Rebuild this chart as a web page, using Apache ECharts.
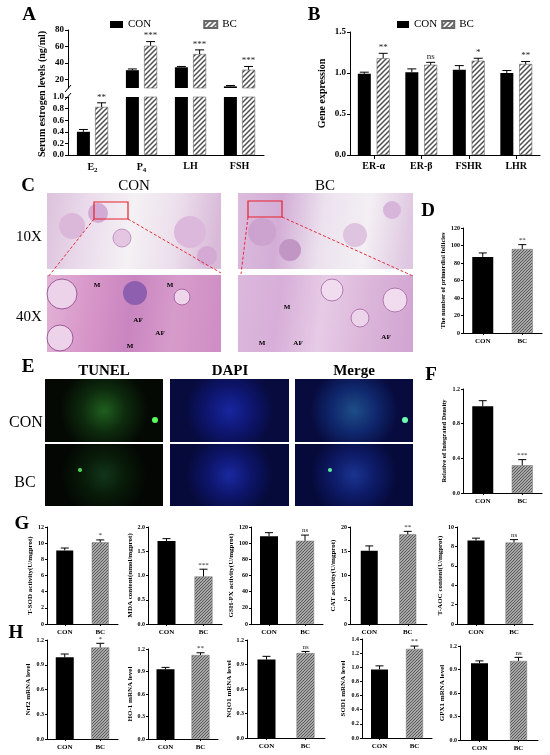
<!DOCTYPE html>
<html>
<head>
<meta charset="utf-8">
<script src="https://cdn.jsdelivr.net/npm/echarts@6/dist/echarts.min.js"></script>
<style>
html, body { margin: 0; padding: 0; background: #fff; }
#main { width: 550px; height: 755px; }
</style>
</head>
<body>
<div id="main"></div>
<script>
// ---- data ----
var hormoneCats = ['E2', 'P4', 'LH', 'FSH'];
var hormoneCon = [0.40, 31.5, 35, 12];
var hormoneConErr = [0.04, 1.5, 1, 1];
var hormoneBc = [0.83, 61, 51, 32];
var hormoneBcErr = [0.07, 5, 5, 4];
var hormoneSig = ['**', '***', '***', '***'];
var hormoneUpperTicks = [20, 40, 60, 80];

var geneCats = ['ER-α', 'ER-β', 'FSHR', 'LHR'];
var geneCon = [0.99, 1.01, 1.04, 1.00];
var geneConErr = [0.02, 0.04, 0.05, 0.03];
var geneBc = [1.18, 1.10, 1.15, 1.11];
var geneBcErr = [0.06, 0.03, 0.03, 0.03];
var geneSig = ['**', 'ns', '*', '**'];

var groups = ['CON', 'BC'];

var follicles = [87, 96];
var folliclesErr = [4.5, 5];
var folliclesSig = ['', '**'];

var tunelDensity = [1.0, 0.32];
var tunelDensityErr = [0.065, 0.065];
var tunelDensitySig = ['', '***'];

// G: oxidative stress indexes
var tsod = [9.1, 10.1], tsodErr = [0.3, 0.3], tsodSig = ['', '*'];
var mda = [1.71, 0.98], mdaErr = [0.05, 0.15], mdaSig = ['', '***'];
var gshpx = [108.5, 103], gshpxErr = [4.5, 7], gshpxSig = ['', 'ns'];
var catAct = [15.1, 18.5], catActErr = [1.0, 0.6], catActSig = ['', '**'];
var taoc = [8.6, 8.4], taocErr = [0.25, 0.3], taocSig = ['', 'ns'];

// H: mRNA levels
var nrf2 = [0.99, 1.11], nrf2Err = [0.04, 0.05], nrf2Sig = ['', '*'];
var ho1 = [0.93, 1.12], ho1Err = [0.025, 0.03], ho1Sig = ['', '**'];
var nqo1 = [0.96, 1.04], nqo1Err = [0.04, 0.02], nqo1Sig = ['', 'ns'];
var sod1 = [0.97, 1.26], sod1Err = [0.05, 0.04], sod1Sig = ['', '**'];
var gpx1 = [0.98, 1.01], gpx1Err = [0.03, 0.045], gpx1Sig = ['', 'ns'];

var SERIF = '"Liberation Serif","Times New Roman",serif';

// diagonal hatch used for BC bars
function hatch(step, color, lw, bg) {
	var c = document.createElement('canvas');
	c.width = step; c.height = step;
	var g = c.getContext('2d');
	g.fillStyle = bg;
	g.fillRect(0, 0, step, step);
	g.strokeStyle = color;
	g.lineWidth = lw;
	g.beginPath();
	g.moveTo(-1, step + 1); g.lineTo(step + 1, -1);
	g.moveTo(-step / 2 - 1, step / 2 + 1); g.lineTo(step / 2 + 1, -step / 2 - 1);
	g.moveTo(step / 2 - 1, step * 1.5 + 1); g.lineTo(step * 1.5 + 1, step / 2 - 1);
	g.stroke();
	return c;
}
var hatchBig = { image: hatch(5, '#505050', 1.5, '#fff'), repeat: 'repeat' };
var hatchSmall = { image: hatch(3, '#555', 1.2, '#cfcfcf'), repeat: 'repeat' };

var chart = echarts.init(document.getElementById('main'));

var grids = [], xAxes = [], yAxes = [], series = [];

function addGrid(g, cats, y, x) {
	grids.push(g);
	var gi = grids.length - 1;
	xAxes.push(Object.assign({ gridIndex: gi, type: 'category', data: cats }, x));
	yAxes.push(Object.assign({ gridIndex: gi, type: 'value', splitLine: { show: false } }, y));
	return gi;
}

var axLine = { show: true, lineStyle: { color: '#000', width: 1 } };

function fixed(d) {
	return function (v) { return v.toFixed(d); };
}

// error bar + significance mark, drawn through the axes
function errSeries(gi, vals, errs, sigs, off, cap, fs, keep) {
	var rows = [];
	vals.forEach(function (v, i) {
		if (!keep || keep(v)) rows.push([i, v, errs[i]]);
	});
	return {
		type: 'custom', xAxisIndex: gi, yAxisIndex: gi, data: rows, z: 10, silent: true, clip: false,
		renderItem: function (params, api) {
			var i = api.value(0), v = api.value(1), e = api.value(2);
			var p0 = api.coord([i, v]), p1 = api.coord([i, v + e]);
			var x = p0[0] + off;
			var kids = [
				{ type: 'line', shape: { x1: x, y1: p0[1], x2: x, y2: p1[1] }, style: { stroke: '#000', lineWidth: 1 } },
				{ type: 'line', shape: { x1: x - cap, y1: p1[1], x2: x + cap, y2: p1[1] }, style: { stroke: '#000', lineWidth: 1 } }
			];
			var s = sigs ? sigs[i] : '';
			if (s) {
				kids.push({ type: 'text', style: { text: s, x: x, y: p1[1] - 1, align: 'center', verticalAlign: 'bottom',
					font: fs + 'px ' + SERIF, fill: '#222' } });
			}
			return { type: 'group', children: kids };
		}
	};
}

// ---- A: serum hormones, broken y axis ----
var catLabel = {
	interval: 0, fontFamily: SERIF, fontWeight: 'bold', fontSize: 10, color: '#000', margin: 6,
	formatter: function (v) {
		if (v === 'E2') return '{b|E}{s|2}';
		if (v === 'P4') return '{b|P}{s|4}';
		return '{b|' + v + '}';
	},
	rich: {
		b: { fontFamily: SERIF, fontWeight: 'bold', fontSize: 10 },
		s: { fontFamily: SERIF, fontWeight: 'bold', fontSize: 7, padding: [6, 0, 0, 0] }
	}
};
var tickLab = function (fs) {
	return { fontFamily: SERIF, fontWeight: 'bold', fontSize: fs, color: '#000', margin: 4 };
};

var gAu = addGrid({ left: 68, top: 30, width: 196, height: 58 }, hormoneCats,
	{ min: 10, max: 80, axisLine: axLine,
	  axisTick: { show: true, length: 3, customValues: hormoneUpperTicks, lineStyle: { color: '#000' } },
	  axisLabel: Object.assign(tickLab(9), { customValues: hormoneUpperTicks }) },
	{ show: false });
var gAl = addGrid({ left: 68, top: 97, width: 196, height: 58 }, hormoneCats,
	{ min: 0, max: 1, interval: 0.2, axisLine: axLine,
	  axisTick: { show: true, length: 3, lineStyle: { color: '#000' } },
	  axisLabel: Object.assign(tickLab(9), { formatter: fixed(1) }) },
	{ axisLine: axLine, axisTick: { show: false }, axisLabel: catLabel });

[gAu, gAl].forEach(function (gi) {
	series.push({ name: 'CON', type: 'bar', xAxisIndex: gi, yAxisIndex: gi, data: hormoneCon,
		barWidth: 13, barGap: '40%', clip: true, itemStyle: { color: '#000' } });
	series.push({ name: 'BC', type: 'bar', xAxisIndex: gi, yAxisIndex: gi, data: hormoneBc,
		barWidth: 13, barGap: '40%', clip: true, itemStyle: { color: hatchBig, borderColor: '#666', borderWidth: 0.6 } });
});
var offA = (13 + 13 * 0.4) / 2;
var above1 = function (v) { return v > 1; }, upTo1 = function (v) { return v <= 1; };
series.push(errSeries(gAu, hormoneCon, hormoneConErr, null, -offA, 4.5, 9, above1));
series.push(errSeries(gAu, hormoneBc, hormoneBcErr, hormoneSig, offA, 4.5, 9, above1));
series.push(errSeries(gAl, hormoneCon, hormoneConErr, null, -offA, 4.5, 9, upTo1));
series.push(errSeries(gAl, hormoneBc, hormoneBcErr, hormoneSig, offA, 4.5, 9, upTo1));

// ---- B: gene expression ----
var gB = addGrid({ left: 350, top: 32, width: 190, height: 123 }, geneCats,
	{ min: 0, max: 1.5, interval: 0.5, axisLine: axLine,
	  axisTick: { show: true, length: 3, lineStyle: { color: '#000' } },
	  axisLabel: Object.assign(tickLab(9), { formatter: fixed(1) }),
	  name: 'Gene expression', nameLocation: 'middle', nameGap: 23,
	  nameTextStyle: { fontFamily: SERIF, fontWeight: 'bold', fontSize: 10, color: '#000' } },
	{ axisLine: axLine, axisTick: { show: true, alignWithLabel: true, length: 4, lineStyle: { color: '#000' } },
	  axisLabel: { interval: 0, fontFamily: SERIF, fontWeight: 'bold', fontSize: 10, color: '#000', margin: 6 } });
series.push({ name: 'CON', type: 'bar', xAxisIndex: gB, yAxisIndex: gB, data: geneCon,
	barWidth: 13, barGap: '45%', itemStyle: { color: '#000' } });
series.push({ name: 'BC', type: 'bar', xAxisIndex: gB, yAxisIndex: gB, data: geneBc,
	barWidth: 13, barGap: '45%', itemStyle: { color: hatchBig, borderColor: '#666', borderWidth: 0.6 } });
var offB = (13 + 13 * 0.45) / 2;
series.push(errSeries(gB, geneCon, geneConErr, null, -offB, 4.5, 9));
series.push(errSeries(gB, geneBc, geneBcErr, geneSig, offB, 4.5, 9));

// ---- small two-bar charts (D, F, G, H) ----
function small(box, max, interval, digits, name, nameGap, nameSize, vals, errs, sigs, bw) {
	var gi = addGrid(box, groups,
		{ min: 0, max: max, interval: interval, axisLine: axLine,
		  axisTick: { show: true, length: 2, lineStyle: { color: '#000' } },
		  axisLabel: Object.assign(tickLab(6), { formatter: fixed(digits), margin: 3 }),
		  name: name, nameLocation: 'middle', nameGap: nameGap,
		  nameTextStyle: { fontFamily: SERIF, fontWeight: 'bold', fontSize: nameSize, color: '#000' } },
		{ axisLine: axLine, axisTick: { show: true, alignWithLabel: true, length: 2, lineStyle: { color: '#000' } },
		  axisLabel: { interval: 0, fontFamily: SERIF, fontWeight: 'bold', fontSize: 7, color: '#000', margin: 5 } });
	series.push({ name: name, type: 'bar', xAxisIndex: gi, yAxisIndex: gi, barWidth: bw,
		data: vals.map(function (v, i) {
			return { value: v, itemStyle: i === 0 ? { color: '#000' }
				: { color: hatchSmall, borderColor: '#777', borderWidth: 0.5 } };
		}) });
	series.push(errSeries(gi, vals, errs, sigs, 0, 4, 7));
}

small({ left: 463, top: 228, width: 79, height: 105 }, 120, 20, 0,
	'The number of primordial follicles', 15, 6.5, follicles, folliclesErr, folliclesSig, 21);
small({ left: 463, top: 389, width: 79, height: 104 }, 1.2, 0.4, 1,
	'Relative of Integrated Density', 15, 6.5, tunelDensity, tunelDensityErr, tunelDensitySig, 21);

small({ left: 47, top: 527, width: 71, height: 97 }, 12, 2, 0,
	'T-SOD activity(U/mgprot)', 10, 7, tsod, tsodErr, tsodSig, 17);
small({ left: 148, top: 527, width: 74, height: 97 }, 2, 0.5, 1,
	'MDA content(nmol/mgprot)', 12, 7, mda, mdaErr, mdaSig, 18);
small({ left: 251, top: 527, width: 72, height: 97 }, 120, 20, 0,
	'GSH-PX activity(U/mgprot)', 13, 7, gshpx, gshpxErr, gshpxSig, 18);
small({ left: 350, top: 527, width: 77, height: 97 }, 20, 5, 0,
	'CAT activity(U/mgprot)', 9, 7, catAct, catActErr, catActSig, 17);
small({ left: 457, top: 527, width: 76, height: 97 }, 10, 2, 0,
	'T-AOC content(U/mgprot)', 9, 7, taoc, taocErr, taocSig, 17);

small({ left: 47, top: 640, width: 71, height: 99 }, 1.2, 0.3, 1,
	'Nrf2 mRNA level', 15, 7, nrf2, nrf2Err, nrf2Sig, 18);
small({ left: 148, top: 649, width: 70, height: 90 }, 1.2, 0.3, 1,
	'HO-1 mRNA level', 12, 7, ho1, ho1Err, ho1Sig, 18);
small({ left: 247, top: 640, width: 78, height: 98 }, 1.2, 0.3, 1,
	'NQO1 mRNA level', 10, 7, nqo1, nqo1Err, nqo1Sig, 18);
small({ left: 362, top: 639, width: 70, height: 99 }, 1.4, 0.2, 1,
	'SOD1 mRNA level', 15, 7, sod1, sod1Err, sod1Sig, 17);
small({ left: 460, top: 646, width: 78, height: 94 }, 1.2, 0.3, 1,
	'GPX1 mRNA level', 10, 7, gpx1, gpx1Err, gpx1Sig, 17);

// ---- text, micrograph placeholders, annotations ----
function txt(s, x, y, size, bold, extra) {
	return Object.assign({ type: 'text', x: x, y: y, silent: true,
		style: { text: s, align: 'center', verticalAlign: 'middle', fill: '#000',
			font: (bold ? 'bold ' : '') + size + 'px ' + SERIF } }, extra || {});
}
function photo(x, y, w, h, stops, radial) {
	var fill = radial
		? { type: 'radial', x: 0.5, y: 0.5, r: 0.7, colorStops: stops }
		: { type: 'linear', x: 0, y: 0, x2: 1, y2: 0.3, colorStops: stops };
	return { type: 'rect', silent: true, shape: { x: x, y: y, width: w, height: h }, style: { fill: fill } };
}
function cs(list) {
	return list.map(function (c, i) { return { offset: i / (list.length - 1), color: c }; });
}
function blob(cx, cy, r, fill, stroke) {
	return { type: 'circle', silent: true, shape: { cx: cx, cy: cy, r: r }, style: { fill: fill, stroke: stroke || null, lineWidth: 1 } };
}
function dash(x1, y1, x2, y2) {
	return { type: 'line', silent: true, shape: { x1: x1, y1: y1, x2: x2, y2: y2 },
		style: { stroke: '#e0303a', lineWidth: 1, lineDash: [3, 2] } };
}
function redBox(x, y, w, h) {
	return { type: 'rect', silent: true, shape: { x: x, y: y, width: w, height: h },
		style: { fill: null, stroke: '#e8202a', lineWidth: 1.2 } };
}

var graphics = [
	txt('A', 29, 15, 19, true), txt('B', 314, 15, 19, true),
	txt('C', 28, 186, 19, true), txt('D', 428, 211, 19, true),
	txt('E', 28, 367, 19, true), txt('F', 431, 375, 19, true),
	txt('G', 22, 524, 19, true), txt('H', 16, 633, 19, true),
	txt('Serum estrogen levels (ng/ml)', 42, 94, 10, true, { rotation: Math.PI / 2 }),
	// axis break marks
	{ type: 'line', silent: true, shape: { x1: 65, y1: 92, x2: 71, y2: 85 }, style: { stroke: '#000', lineWidth: 1 } },
	{ type: 'line', silent: true, shape: { x1: 65, y1: 100, x2: 71, y2: 93 }, style: { stroke: '#000', lineWidth: 1 } },

	// C: H&E sections
	txt('CON', 134, 186, 15, false), txt('BC', 325, 186, 15, false),
	txt('10X', 29, 237, 15, false), txt('40X', 29, 317, 15, false),
	photo(47, 193, 174, 76, cs(['#dcc2dc', '#ebdcec', '#f4f1f4', '#ecdfec', '#d8b9d8'])),
	blob(72, 226, 13, '#dbb7da'), blob(98, 213, 10, '#d3aad3'), blob(122, 238, 9, '#e4c6e2', '#c294bf'),
	blob(190, 232, 16, '#dcb9dc'), blob(207, 256, 10, '#d4aad4'),
	photo(47, 275, 174, 77, cs(['#e2b3d7', '#d897c9', '#c985c0', '#d79bcb', '#cf8fc4'])),
	blob(62, 294, 15, '#edd3e9', '#9c5a98'), blob(60, 338, 13, '#edd3e9', '#9c5a98'),
	blob(135, 293, 12, '#8d5fae'), blob(182, 297, 8, '#efd5ea', '#a86aa4'),
	photo(238, 193, 175, 76, cs(['#dcbcdd', '#d3add6', '#ece2ee', '#f3eff4', '#dfc7e1'])),
	blob(262, 232, 14, '#cca3cf'), blob(290, 250, 11, '#c196c5'), blob(355, 235, 12, '#dfc4e0'), blob(392, 210, 9, '#d7b4d9'),
	photo(238, 275, 175, 77, cs(['#dcb8dc', '#d7aed8', '#e6cbe6', '#dcb6da', '#d2a6d2'])),
	blob(332, 290, 11, '#f0dcee', '#b07ab0'), blob(395, 300, 12, '#f0dcee', '#b07ab0'), blob(360, 318, 9, '#ecd4ea', '#b07ab0'),
	redBox(94, 202, 34, 17), redBox(248, 201, 34, 16),
	dash(94, 219, 48, 277), dash(128, 219, 221, 273),
	dash(248, 217, 241, 274), dash(282, 217, 413, 276),
	txt('M', 97, 285, 7, true), txt('M', 170, 285, 7, true), txt('AF', 138, 320, 7, true),
	txt('AF', 160, 333, 7, true), txt('M', 130, 346, 7, true),
	txt('M', 287, 307, 7, true), txt('M', 262, 343, 7, true), txt('AF', 298, 343, 7, true), txt('AF', 386, 337, 7, true),

	// E: TUNEL / DAPI / Merge fluorescence
	txt('TUNEL', 104, 371, 15, true), txt('DAPI', 230, 371, 15, true), txt('Merge', 354, 371, 15, true),
	txt('CON', 26, 423, 16, false), txt('BC', 25, 483, 16, false),
	photo(45, 379, 118, 63, cs(['#1f5e1f', '#0d2a0d', '#040904']), true),
	photo(170, 379, 119, 63, cs(['#1726a0', '#0e1670', '#070b3e']), true),
	photo(295, 379, 118, 63, cs(['#1e4e86', '#10286e', '#070b3e']), true),
	photo(45, 444, 118, 62, cs(['#11351a', '#081a08', '#030603']), true),
	photo(170, 444, 119, 62, cs(['#1a28a0', '#0d156a', '#060a3a']), true),
	photo(295, 444, 118, 62, cs(['#1a3490', '#0d1a66', '#060a3a']), true),
	blob(155, 420, 3, '#5cff5c'), blob(405, 420, 3, '#6cffb0'), blob(80, 470, 2, '#4ce04c'), blob(330, 470, 2, '#5cf0a0')
];

chart.setOption({
	backgroundColor: '#fff',
	animation: false,
	textStyle: { fontFamily: SERIF },
	legend: [
		{ left: 110, top: 19, padding: 0, itemWidth: 13, itemHeight: 7, itemGap: 52, icon: 'rect', data: ['CON', 'BC'],
		  textStyle: { fontFamily: SERIF, fontSize: 11, color: '#000' } },
		{ left: 397, top: 19, padding: 0, itemWidth: 12, itemHeight: 7, itemGap: 4, icon: 'rect', data: ['CON', 'BC'],
		  textStyle: { fontFamily: SERIF, fontSize: 11, color: '#000' } }
	],
	grid: grids,
	xAxis: xAxes,
	yAxis: yAxes,
	series: series,
	graphic: graphics
});

window.onresize = function () {
	chart.resize();
};
</script>
</body>
</html>
